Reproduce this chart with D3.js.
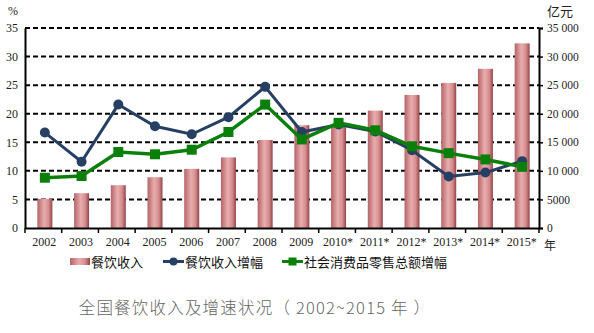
<!DOCTYPE html>
<html><head><meta charset="utf-8">
<script src="https://cdn.jsdelivr.net/npm/d3@7"></script>
<style>body{margin:0;background:#fff}</style>
</head><body>
<svg id="c" width="594" height="333"></svg>
<script>
const years = ["2002","2003","2004","2005","2006","2007","2008","2009","2010*","2011*","2012*","2013*","2014*","2015*"];
const revenue = [5092,6087,7486,8887,10346,12352,15404,17998,17648,20543,23283,25392,27860,32310];
const revenueGrowth = [16.7,11.6,21.6,17.8,16.4,19.4,24.7,16.8,18.1,16.9,13.6,9.0,9.7,11.7];
const retailGrowth = [8.8,9.1,13.3,12.9,13.7,16.8,21.6,15.5,18.4,17.1,14.3,13.1,12.0,10.7];
const leftTicks = [0,5,10,15,20,25,30,35];
const rightTicks = [0,5000,10000,15000,20000,25000,30000,35000];
const rightTickLabels = ["0","5000","10 000","15 000","20 000","25 000","30 000","35 000"];

const svg = d3.select("#c");
const L = 25, R = 539, T = 28, B = 228;
const x = d3.scaleBand().domain(years).range([L, R]);
const yL = d3.scaleLinear().domain([0,35]).range([B, T]);
const yR = d3.scaleLinear().domain([0,35000]).range([B, T]);
const serif = "'Liberation Serif','DejaVu Serif',serif";
const cjk = "'Noto Sans CJK SC',sans-serif";

const defs = svg.append("defs");
const g = defs.append("linearGradient").attr("id","bar").attr("x1","0").attr("x2","1").attr("y1","0").attr("y2","0");
g.append("stop").attr("offset","0").attr("stop-color","#b36468");
g.append("stop").attr("offset","0.45").attr("stop-color","#e9adad");
g.append("stop").attr("offset","0.75").attr("stop-color","#d58d8f");
g.append("stop").attr("offset","1").attr("stop-color","#94434a");

// gridlines
svg.append("g").selectAll("line").data(leftTicks.slice(1)).join("line")
  .attr("x1", L).attr("x2", R).attr("y1", d=>yL(d)).attr("y2", d=>yL(d))
  .attr("stroke","#000").attr("stroke-width",2).attr("stroke-dasharray","5,3");

// bars
const bw = 15;
svg.append("g").selectAll("rect").data(revenue).join("rect")
  .attr("x",(d,i)=>x(years[i]) + x.bandwidth()/2 - bw/2 + 1.5)
  .attr("width", bw)
  .attr("y", d=>yR(d)).attr("height", d=>B - yR(d))
  .attr("fill","url(#bar)");

// axes
const axL = svg.append("g").attr("transform",`translate(${L},0)`)
  .call(d3.axisLeft(yL).tickValues(leftTicks).tickSize(0).tickPadding(7));
const axR = svg.append("g").attr("transform",`translate(${R},0)`)
  .call(d3.axisRight(yR).tickValues(rightTicks).tickSize(4).tickPadding(4).tickFormat((d,i)=>rightTickLabels[i]));
const axB = svg.append("g").attr("transform",`translate(0,${B})`)
  .call(d3.axisBottom(x).tickSize(0).tickPadding(9));
[axL, axR, axB].forEach(a=>{
  a.selectAll("text").attr("font-family", serif).attr("font-size", 12).attr("fill","#222");
  a.select(".domain").attr("stroke","#000").attr("stroke-width",2);
  a.selectAll(".tick line").attr("stroke","#000").attr("stroke-width",1.5);
});
axR.selectAll(".tick text").attr("font-size", 11.5);
axB.selectAll(".tick text").attr("dx", 1);
// bottom tick marks at band boundaries
svg.append("g").selectAll("line").data(years.concat(["end"])).join("line")
  .attr("x1",(d,i)=> L + i*x.step()).attr("x2",(d,i)=> L + i*x.step())
  .attr("y1",B).attr("y2",B+5).attr("stroke","#000").attr("stroke-width",1.5);

// unit labels
svg.append("text").attr("x",8).attr("y",15).text("%").attr("font-family",serif).attr("font-size",12).attr("fill","#222");
svg.append("text").attr("x",547).attr("y",16).text("亿元").attr("font-family",cjk).attr("font-size",13).attr("fill","#222");
svg.append("text").attr("x",544).attr("y",250).text("年").attr("font-family",cjk).attr("font-size",12).attr("fill","#222");

// lines
const cx = (i)=> x(years[i]) + x.bandwidth()/2 + 1.5;
const line = d3.line().x((d,i)=>cx(i)).y(d=>yL(d));
svg.append("path").datum(revenueGrowth).attr("d",line).attr("fill","none").attr("stroke","#263f63").attr("stroke-width",3);
svg.append("g").selectAll("circle").data(revenueGrowth).join("circle")
  .attr("cx",(d,i)=>cx(i)).attr("cy",d=>yL(d)).attr("r",5).attr("fill","#263f63");
svg.append("path").datum(retailGrowth).attr("d",line).attr("fill","none").attr("stroke","#0a800a").attr("stroke-width",3.5);
svg.append("g").selectAll("rect").data(retailGrowth).join("rect")
  .attr("x",(d,i)=>cx(i)-5).attr("y",d=>yL(d)-5).attr("width",10).attr("height",10).attr("fill","#0a800a");

// legend
const lg = svg.append("g").attr("font-family",cjk).attr("font-size",13).attr("fill","#111");
lg.append("rect").attr("x",70).attr("y",258).attr("width",20).attr("height",7).attr("fill","url(#bar)");
lg.append("text").attr("x",91).attr("y",267).text("餐饮收入");
lg.append("line").attr("x1",163).attr("x2",184).attr("y1",261.5).attr("y2",261.5).attr("stroke","#263f63").attr("stroke-width",3);
lg.append("circle").attr("cx",173.5).attr("cy",261.5).attr("r",4).attr("fill","#263f63");
lg.append("text").attr("x",185).attr("y",267).text("餐饮收入增幅");
lg.append("line").attr("x1",282).attr("x2",303).attr("y1",261.5).attr("y2",261.5).attr("stroke","#0a800a").attr("stroke-width",3);
lg.append("rect").attr("x",288.5).attr("y",257.5).attr("width",8).attr("height",8).attr("fill","#0a800a");
lg.append("text").attr("x",304).attr("y",267).text("社会消费品零售总额增幅");

// title
svg.append("text").attr("x",255).attr("y",314).attr("text-anchor","middle")
  .attr("font-family",cjk).attr("font-size",16.5).attr("font-weight",300).attr("fill","#666")
  .attr("letter-spacing",1.2)
  .text("全国餐饮收入及增速状况（ 2002~2015 年 ）");
</script>
</body></html>
